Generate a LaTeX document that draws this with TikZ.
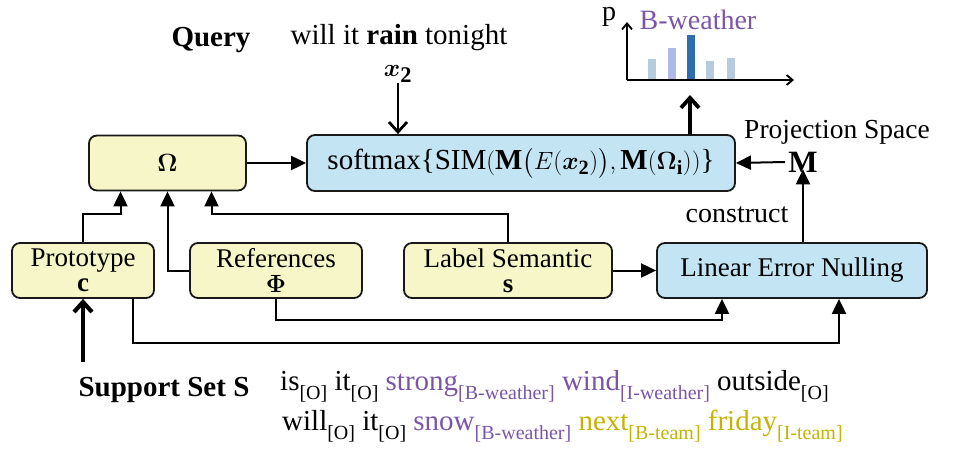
\documentclass[tikz,border=0pt]{standalone}
\usepackage{amsmath,bm}
\usepackage{fontspec}
\setmainfont{Liberation Serif}
\usetikzlibrary{arrows.meta,calc}
\definecolor{boxyellow}{HTML}{F6F6C8}
\definecolor{boxblue}{HTML}{C2E4F3}
\definecolor{purp}{HTML}{7B55A8}
\definecolor{oliv}{HTML}{C4B300}
\definecolor{barlight}{HTML}{B7CBDF}
\definecolor{barlav}{HTML}{ADB9E6}
\definecolor{bardark}{HTML}{2F6DB0}
\newcommand{\tagsub}[1]{\raisebox{-0.32em}{\fontsize{20}{20}\selectfont #1}}
\begin{document}
\begin{tikzpicture}[x=1pt,y=-1pt,
  box/.style={draw=black!90,line width=1.8pt,rounded corners=8pt,minimum height=55pt,inner sep=1pt,align=center,font=\fontsize{27}{25}\selectfont},
  ybox/.style={box,fill=boxyellow},
  bbox/.style={box,fill=boxblue},
  arr/.style={line width=2pt,-{Triangle[length=15pt,width=14pt]}},
  barbarr/.style={line width=#1,-{Straight Barb[length=10pt,width=18pt]}},
  axisarr/.style={line width=1.8pt,-{Straight Barb[length=6pt,width=10pt]}},
  txt/.style={inner sep=0pt,font=\fontsize{28}{30}\selectfont},
  bar/.style={draw=none}
]
\useasboundingbox (0,0) rectangle (962,458);
% boxes
\node[ybox,minimum width=157pt,font=\fontsize{31}{30}\selectfont] (omega) at (167.5,163) {$\bm{\Omega}$};
\node[bbox,minimum width=428pt,minimum height=56pt,font=\fontsize{29}{30}\selectfont] (soft) at (521,163) {softmax\{SIM$(\mathbf{M}\bigl(E(\bm{x}_{\mathbf{2}})\bigr),\mathbf{M}(\bm{\Omega}_{\mathbf{i}}))$\}};
\node[ybox,minimum width=142pt] (proto) at (83,270.5) {Prototype\\[0pt]\textbf{c}};
\node[ybox,minimum width=172pt] (refs) at (276,270.5) {References\\[0pt]$\bm{\Phi}$};
\node[ybox,minimum width=208pt] (lab) at (508,270.5) {Label Semantic\\[0pt]\textbf{s}};
\node[bbox,minimum width=270pt] (len) at (792,270.5) {Linear Error Nulling};
% texts
\node[txt,font=\fontsize{29}{30}\selectfont\bfseries] (query) at (211,40) {Query};
\node[txt,font=\fontsize{29}{30}\selectfont] (sent) at (399,38) {will it \textbf{rain} tonight};
\node[txt,font=\fontsize{32}{30}\selectfont] (x2) at (398,74) {$\bm{x}_{\mathbf{2}}$};
\node[txt,font=\fontsize{27.5}{30}\selectfont] (proj) at (837,132) {Projection Space};
\node[txt,font=\fontsize{31}{30}\selectfont] (M) at (803,162) {$\mathbf{M}$};
\node[txt] (cons) at (737,215) {construct};
\node[txt,font=\fontsize{29}{30}\selectfont\bfseries] (support) at (164,390) {Support Set S};
\node[txt,anchor=west,font=\fontsize{29}{30}\selectfont] (line1) at (280,386) {is\tagsub{[O]} it\tagsub{[O]} \textcolor{purp}{strong\tagsub{[B-weather]}} \textcolor{purp}{wind\tagsub{[I-weather]}} outside\tagsub{[O]}};
\node[txt,anchor=west,font=\fontsize{29}{30}\selectfont] (line2) at (282,426) {will\tagsub{[O]} it\tagsub{[O]} \textcolor{purp}{snow\tagsub{[B-weather]}} \textcolor{oliv}{next\tagsub{[B-team]}} \textcolor{oliv}{friday\tagsub{[I-team]}}};
% histogram
\coordinate (origin) at (627,80);
\coordinate (ytop) at (627,22);
\coordinate (xend) at (794,80);
\fill[barlight] (648,59) rectangle (656,80);
\fill[barlav] (668,48) rectangle (676,80);
\fill[bardark] (687,35) rectangle (695,80);
\fill[barlight] (706,61) rectangle (714,80);
\fill[barlight] (727,58) rectangle (735,80);
\draw[axisarr] (origin) -- (ytop);
\draw[axisarr] (origin) -- (xend);
\node[txt] (p) at (609,17) {p};
\node[txt,text=purp] (bw) at (698,20) {B-weather};
\coordinate (histin) at (690,95);
% connectors
\draw[arr] (omega.east) -- (soft.west);
\draw[arr] ([xshift=-3]M.west) -- (soft.east);
\draw[arr] (len.north -| M) -- ([yshift=3]M.south);
\draw[barbarr=2.8pt] (x2.south) -- (x2.south |- soft.north);
\draw[barbarr=3.8pt] (soft.north -| histin) -- (histin);
\draw[arr] (proto.north) -- ++(0,-28) -| ([xshift=-47]omega.south);
\draw[arr] (refs.west) -| (omega.south);
\draw[arr] (lab.north) -- ++(0,-28) -| ([xshift=44]omega.south);
\draw[arr] (lab.east) -- (lab.east -| len.west);
\draw[arr] (refs.south) -- ++(0,21) -| ([xshift=-70]len.south);
\draw[arr] ([xshift=50]proto.south) -- ++(0,44) -| ([xshift=47]len.south);
\coordinate (suppin) at (83,362);
\draw[barbarr=4.2pt] (suppin) -- (proto.south);
\end{tikzpicture}
\end{document}
